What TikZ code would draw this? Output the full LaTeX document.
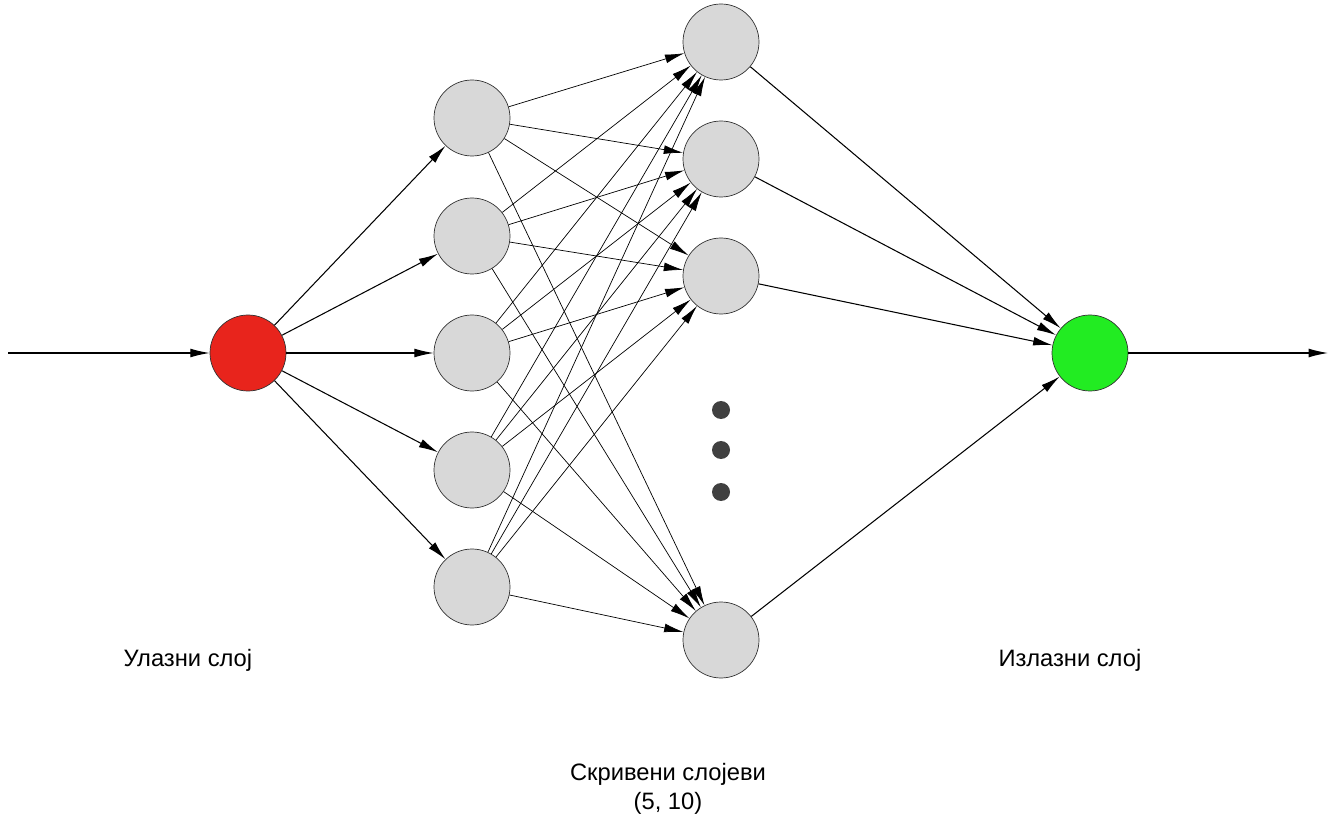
\documentclass[tikz,border=0pt]{standalone}
\usepackage{fontspec}
\setmainfont{Liberation Sans}
\usetikzlibrary{arrows.meta}

\definecolor{neurongray}{RGB}{216,216,216}
\definecolor{neuronred}{RGB}{232,36,28}
\definecolor{neurongreen}{RGB}{34,236,34}

\tikzset{
    neuron/.style={circle, draw=black!80, thin, minimum size=1.52cm, inner sep=0pt},
    conn/.style={-{Latex[length=11pt,width=5pt]}, black, semithick},
    layerlabel/.style={font=\fontsize{13.5}{16.5}\selectfont, align=center}
}

\begin{document}
\begin{tikzpicture}
        \useasboundingbox (0,0) rectangle (26.72,16.5);

        % Ulazni i izlazni neuron
        \node[neuron, fill=neuronred] (in) at (4.96, 9.44) {};
        \node[neuron, fill=neurongreen] (out) at (21.8, 9.44) {};

        % Prvi skriveni sloj
        \foreach \i/\y in {1/14.14, 2/11.78, 3/9.44, 4/7.10, 5/4.76}
            \node[neuron, fill=neurongray] (h1-\i) at (9.44, \y) {};

        % Drugi skriveni sloj
        \foreach \j/\y in {1/15.66, 2/13.32, 3/10.98, 4/3.70}
            \node[neuron, fill=neurongray] (h2-\j) at (14.42, \y) {};

        % Tacke izmedju neurona
        \foreach \k/\y in {1/8.30, 2/7.50, 3/6.66}
            \node[circle, fill=black!75, minimum size=0.36cm, inner sep=0pt] (dot-\k) at (14.42, \y) {};

        % Ulaz i izlaz mreze
        \coordinate (src) at (0.16, 9.44);
        \coordinate (dst) at (26.56, 9.44);
        \draw[conn] (src) -- (in);
        \draw[conn] (out) -- (dst);

        % Veze izmedju slojeva
        \foreach \i in {1,...,5}
            \draw[conn] (in) -- (h1-\i);
        \foreach \i in {1,...,5}
            \foreach \j in {1,...,4}
                \draw[conn, thin] (h1-\i) -- (h2-\j);
        \foreach \j in {1,...,4}
            \draw[conn] (h2-\j) -- (out);

        % Natpisi
        \node[layerlabel] (lbl-in) at (3.76, 3.30) {Улазни слој};
        \node[layerlabel] (lbl-out) at (21.4, 3.30) {Излазни слој};
        \node[layerlabel] (lbl-hid) at (13.36, 0.72) {Скривени слојеви\\(5, 10)};

\end{tikzpicture}
\end{document}
